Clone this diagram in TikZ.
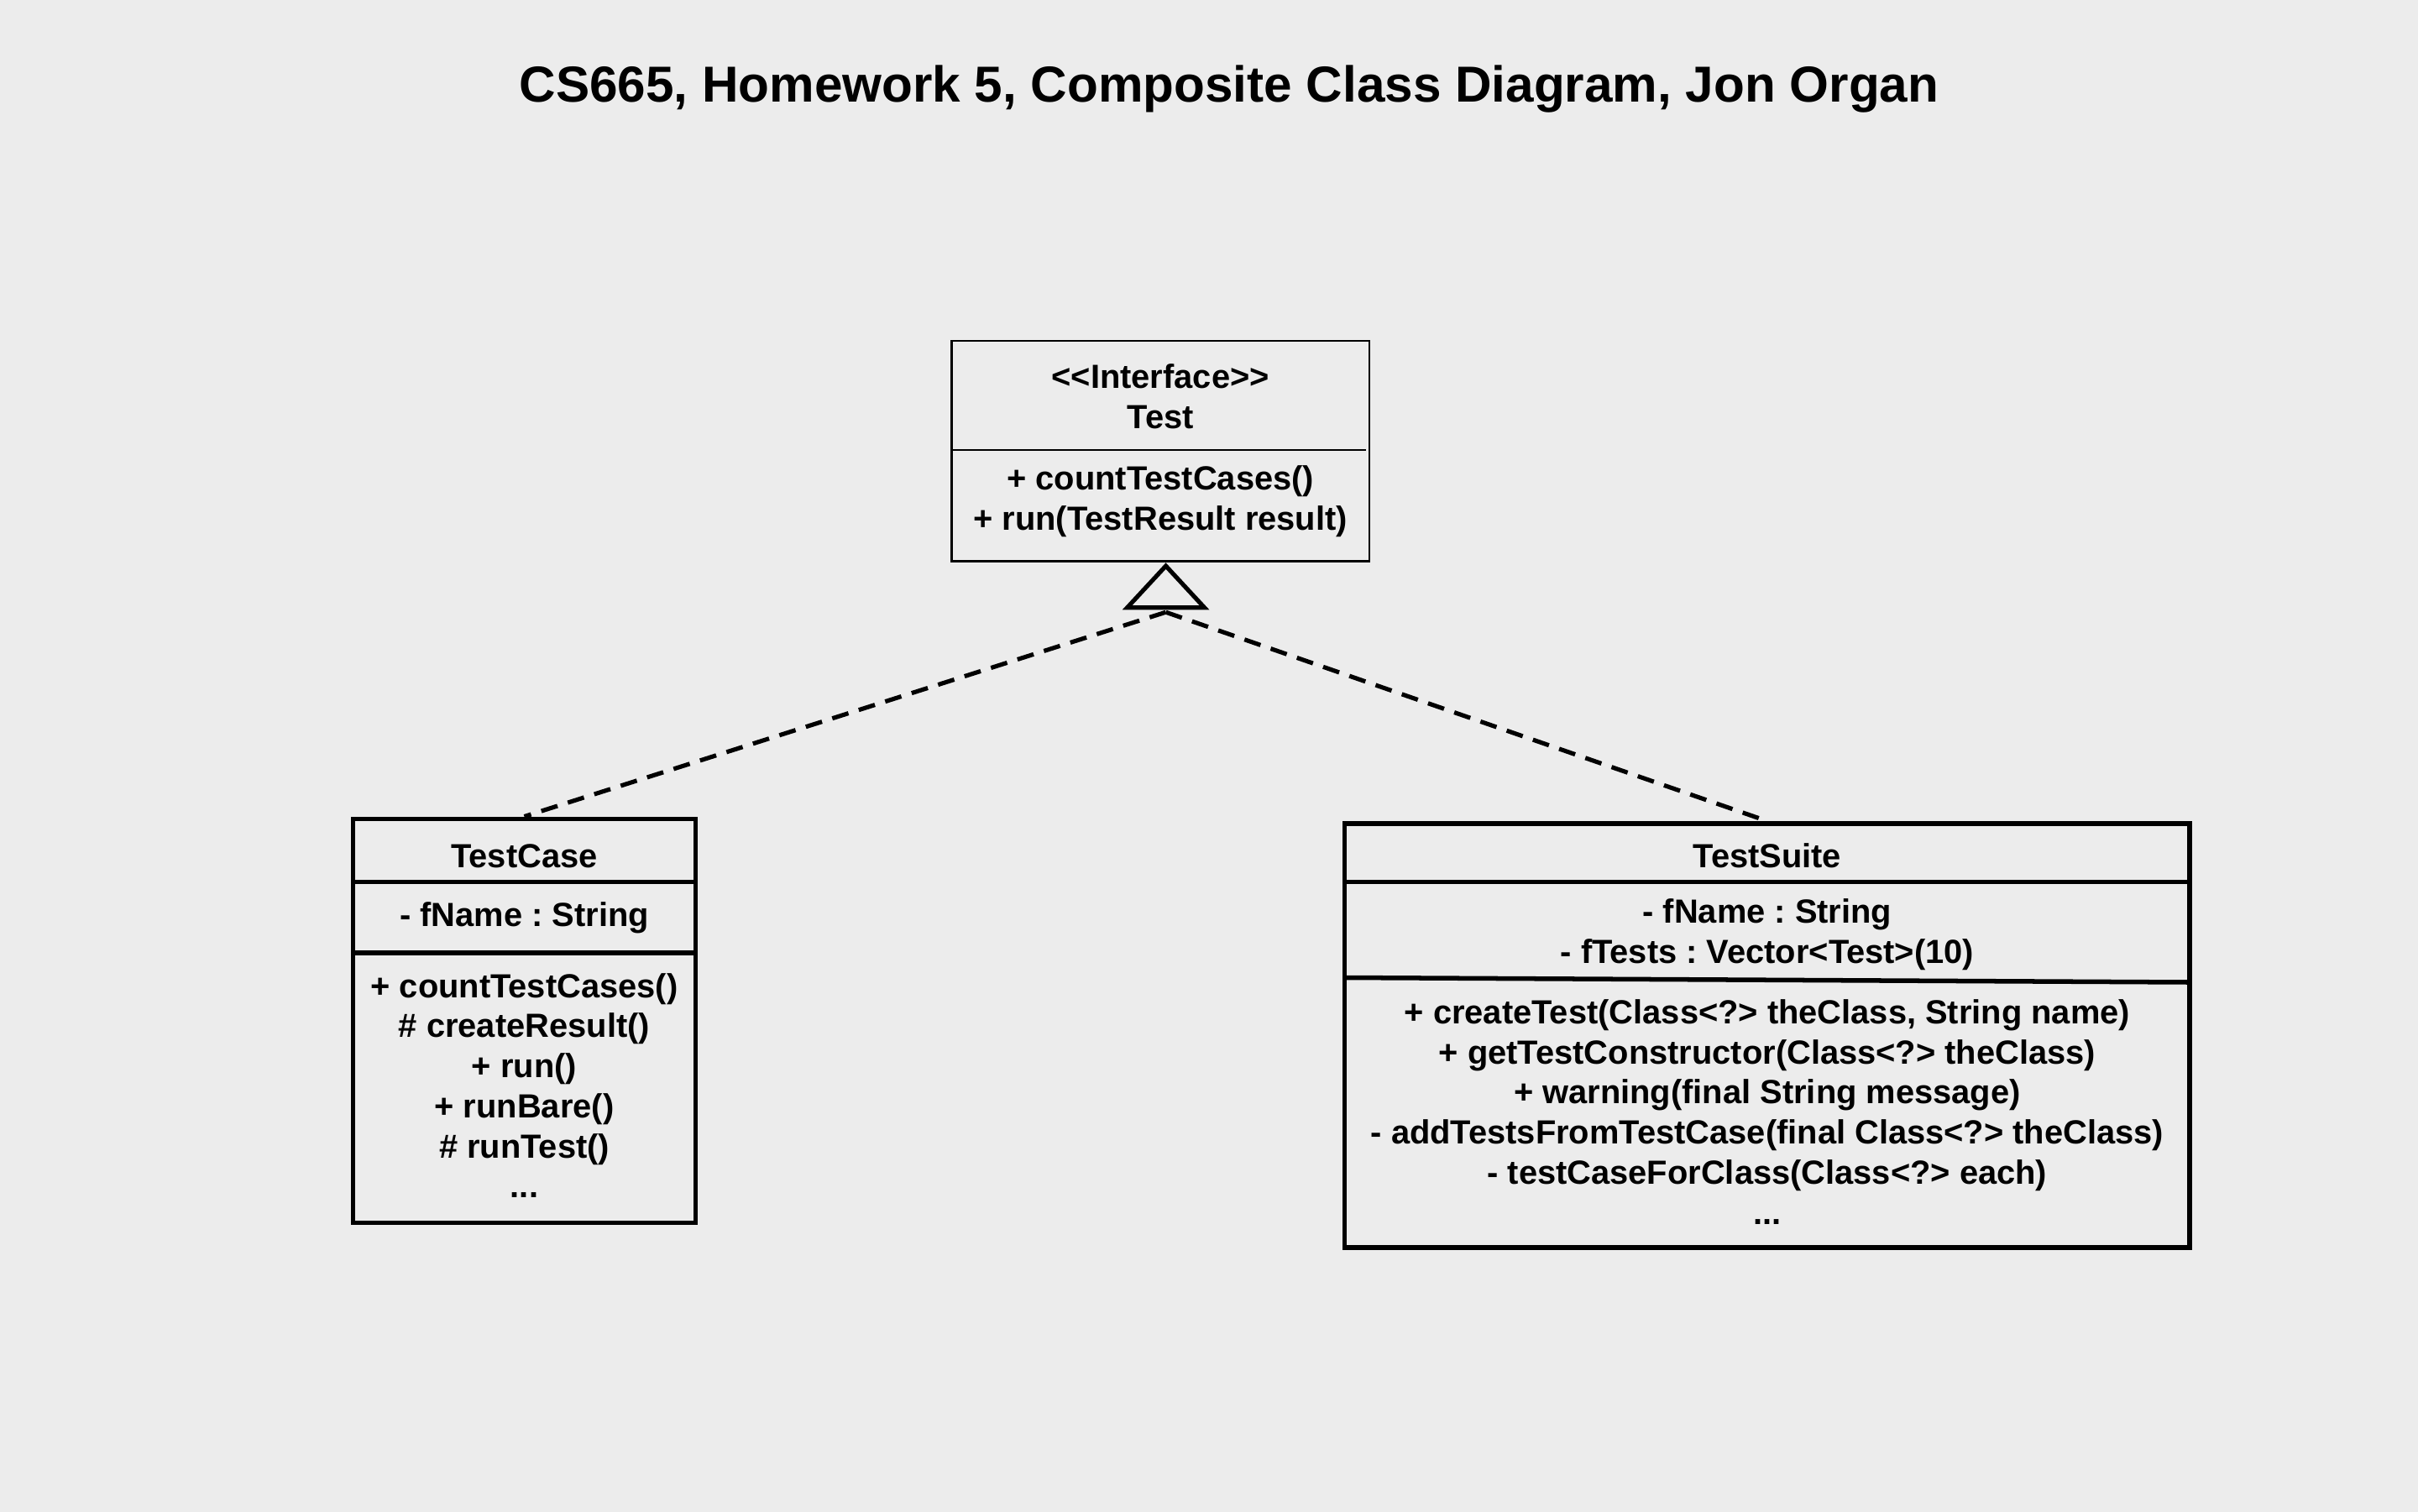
\documentclass[tikz,border=0pt]{standalone}
\usepackage{fontspec}
\setmainfont{Liberation Sans}
\frenchspacing
\begin{document}
\begin{tikzpicture}[x=1pt,y=-1pt,
  bgc/.style={fill=bggray, draw=none},
  ifacebox/.style={draw=black, line width=1.5pt, fill=none, inner sep=0pt},
  clsbox/.style={draw=black, line width=3pt, fill=none, inner sep=0pt},
  thin divider/.style={draw=black, line width=1.2pt},
  thick divider/.style={draw=black, line width=3pt},
  txt/.style={font=\bfseries\fontsize{21.7}{26}\selectfont, align=center, inner sep=0pt, text=black},
  titletxt/.style={font=\bfseries\fontsize{32.8}{38}\selectfont, inner sep=0pt, text=black},
  realize/.style={draw=black, line width=2.8pt, dash pattern=on 11pt off 7pt},
  tri/.style={draw=black, line width=2.8pt, line join=miter, fill=bggray}]
\definecolor{bggray}{RGB}{236,236,236}
\useasboundingbox (0,0) rectangle (1568,980);
\fill[bgc] (-6,-6) rectangle (1574,986);

% title
\node[titletxt] (title) at (797,58) {CS665, Homework 5, Composite Class Diagram, Jon Organ};

% Test interface
\node[ifacebox, minimum width=271pt, minimum height=143pt] (test) at (752.5,292.5) {};
\coordinate (tdl) at (617,292);
\coordinate (tdr) at (886,292);
\draw[thin divider] (tdl) -- (tdr);
\node[txt] (testname) at (752.5,257) {<{}<Interface>{}>\\Test};
\node[txt] (testops) at (752.5,325) {+ countTestCases()\\+ run(TestResult result)};

% TestCase
\node[clsbox, minimum width=222pt, minimum height=262pt] (tc) at (340,662) {};
\coordinate (c1l) at (229,572);
\coordinate (c1r) at (451,572);
\coordinate (c2l) at (229,618);
\coordinate (c2r) at (451,618);
\draw[thick divider] (c1l) -- (c1r);
\draw[thick divider] (c2l) -- (c2r);
\node[txt] (tcname) at (340,555) {TestCase};
\node[txt] (tcattr) at (340,595) {- fName : String};
\node[txt] (tcops) at (340,704) {+ countTestCases()\\\# createResult()\\+ run()\\+ runBare()\\\# runTest()\\...};

% TestSuite
\node[clsbox, minimum width=548pt, minimum height=275pt] (ts) at (1146,671.5) {};
\coordinate (s1l) at (872,572);
\coordinate (s1r) at (1420,572);
\coordinate (s2l) at (872,634);
\coordinate (s2r) at (1420,637);
\draw[thick divider] (s1l) -- (s1r);
\draw[thick divider] (s2l) -- (s2r);
\node[txt] (tsname) at (1146,555) {TestSuite};
\node[txt] (tsattr) at (1146,606) {- fName : String\\- fTests : Vector<Test>(10)};
\node[txt] (tsops) at (1146,721) {+ createTest(Class<?> theClass, String name)\\+ getTestConstructor(Class<?> theClass)\\+ warning(final String message)\\- addTestsFromTestCase(final Class<?> theClass)\\- testCaseForClass(Class<?> each)\\...};

% realization connectors
\coordinate (base) at (756,397);
\draw[realize] (base) -- (tc.north);
\draw[realize] (base) -- (ts.north);

% hollow triangle
\coordinate (apex) at (756,367);
\coordinate (bl) at (731,394);
\coordinate (br) at (781,394);
\draw[tri] (apex) -- (bl) -- (br) -- cycle;
\end{tikzpicture}
\end{document}
